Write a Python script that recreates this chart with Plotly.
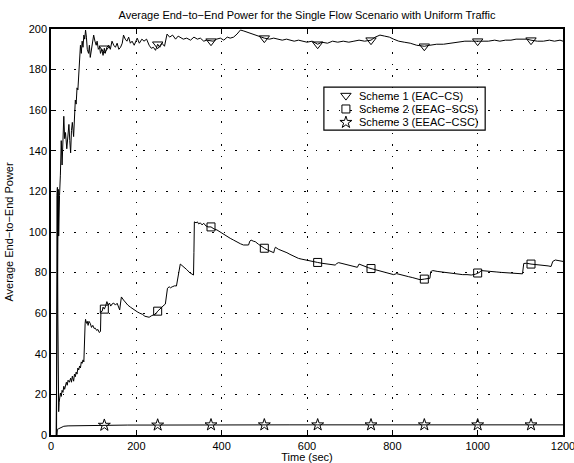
import plotly.graph_objects as go

# ---- Scheme 1 (EAC-CS): time (s) and average end-to-end power ----
s1_t = [12, 14, 15, 16, 17, 18, 19, 20, 22, 24,
        26, 28, 30, 32, 34, 37, 40, 42, 44, 46,
        48, 50, 53, 55, 57, 59, 61, 63, 65, 67,
        69, 71, 73, 75, 77, 79, 81, 83, 85, 88,
        90, 92, 95, 98, 100, 103, 106, 108, 111, 114,
        116, 119, 122, 125, 127, 131, 135, 139, 143, 147,
        151, 155, 159, 163, 167, 170, 174, 178, 182, 186,
        190, 195, 202, 207, 213, 218, 224, 230, 235, 240,
        245, 250, 255, 260, 266, 272, 278, 285, 292, 298,
        303, 310, 318, 327, 335, 343, 350, 358, 365, 375,
        380, 388, 397, 405, 413, 420, 428, 436, 444, 452,
        459, 467, 475, 483, 492, 500, 512, 522, 532, 542,
        552, 561, 570, 580, 590, 600, 612, 625, 635, 648,
        660, 672, 685, 698, 710, 722, 735, 750, 760, 771,
        782, 793, 803, 815, 828, 842, 857, 875, 888, 904,
        920, 935, 948, 959, 970, 985, 1000, 1012, 1025, 1040,
        1052, 1065, 1078, 1090, 1103, 1115, 1125, 1140, 1154, 1168,
        1180, 1193, 1200]
s1_v = [0, 55, 92, 106, 121, 98, 112, 118, 128, 145,
        133, 150, 157, 146, 149, 141, 151, 153, 145, 139,
        150, 154, 147, 158, 165, 163, 171, 170, 179, 183,
        192, 188, 194, 191, 197, 195, 199.5, 196, 190, 188,
        192, 186, 191, 196, 197, 194, 192, 194, 190, 191,
        188, 190, 187, 190.5, 188, 191, 192, 190, 194, 192,
        191, 193, 190, 191, 193, 197, 195, 194, 196, 193,
        194, 192, 195.5, 193, 195, 194, 195, 192, 190.5, 191,
        189.5, 192.5, 191, 193, 191.5, 197.5, 196, 197, 195, 196.5,
        196, 195, 195.5, 194.5, 196, 195, 195.5, 194, 194.5, 194,
        194, 195, 195.5, 194.5, 196, 195.5, 196, 197.5, 199.5, 199,
        198.5, 198, 197.5, 197, 196, 195.5, 195, 195.5, 195, 194.5,
        195, 194.5, 194, 194.5, 194, 193.5, 194, 192.5, 193.5, 193,
        194, 193.5, 194, 193.5, 194, 194.5, 194, 194.5, 196, 197,
        196.5, 196, 195, 194, 193.5, 193, 192, 191.5, 192, 192.5,
        192.5, 193, 193.5, 193.5, 194, 194, 194, 194, 194, 194.5,
        194, 194.5, 194.5, 195, 195, 195, 194.5, 194, 194, 194.5,
        194, 194.5, 194]

# ---- Scheme 2 (EEAC-SCS) ----
s2_t = [12, 13, 14, 15, 16, 17, 18, 19, 20, 22,
        24, 26, 28, 30, 32, 34, 36, 38, 40, 43,
        46, 48, 50, 53, 55, 57, 59, 61, 63, 65,
        67, 69, 71, 73, 75, 77, 78, 79, 80, 81,
        83, 85, 87, 89, 92, 95, 98, 101, 104, 107,
        110, 113, 116, 117, 120, 122, 125, 128, 131, 134,
        137, 140, 143, 147, 151, 155, 158, 161, 163, 165,
        170, 175, 180, 186, 192, 197, 202, 208, 214, 220,
        225, 230, 236, 241, 245, 250, 255, 260, 265, 268,
        270, 273, 277, 280, 284, 290, 294, 296, 298, 300,
        303, 307, 311, 318, 325, 330, 334, 335, 336, 340,
        343, 346, 350, 354, 358, 363, 368, 375, 382, 389,
        396, 404, 412, 420, 428, 436, 444, 451, 457, 463,
        466, 469, 474, 479, 486, 492, 500, 507, 515, 522,
        524, 526, 533, 540, 547, 553, 560, 567, 574, 580,
        588, 594, 600, 608, 615, 625, 635, 645, 655, 666,
        670, 674, 682, 690, 700, 710, 718, 722, 728, 736,
        744, 750, 758, 768, 778, 788, 797, 803, 810, 818,
        828, 838, 848, 856, 865, 875, 882, 888, 890, 895,
        905, 915, 925, 935, 945, 955, 965, 975, 985, 995,
        1000, 1005, 1008, 1015, 1025, 1035, 1045, 1055, 1065, 1075,
        1085, 1095, 1105, 1108, 1115, 1125, 1135, 1145, 1155, 1165,
        1172, 1176, 1182, 1190, 1200]
s2_v = [0, 0, 118, 122, 60, 14, 11.5, 16, 18, 20.7,
        19, 22, 21, 24, 22.5, 24, 26, 24.5, 27, 26,
        28, 26, 29, 26.5, 30, 28.7, 31, 30, 33, 32,
        34, 33, 36, 35.3, 37, 36, 48, 52, 55, 57,
        55, 56, 54, 56, 55, 53, 54, 52.5, 52.6, 51.5,
        52, 50.5, 51, 60.7, 61, 63, 62, 63.5, 65.7, 64,
        65, 63.5, 64.5, 65, 64, 64.9, 63, 61.6, 65, 68,
        66.5, 65, 64, 63, 62, 61.5, 60.7, 60, 59.5, 58.5,
        58.3, 58, 58.8, 59.1, 59.5, 61, 62, 63.5, 64, 64.5,
        68, 72.3, 73, 72.5, 73, 73.5, 73.4, 76, 80, 82,
        84.2, 83.5, 82.9, 81.5, 80, 79.5, 78.8, 90, 105, 104.5,
        105, 104, 104.5, 103.5, 104.3, 103, 102.5, 102.5, 101.5, 101,
        100, 99, 98, 96.9, 96, 95, 94.2, 93.6, 93.5, 93.6,
        95.5, 96, 95.5, 95.2, 94, 93, 92, 91.2, 90.3, 89.8,
        91.5, 92.5, 91.5, 91, 90.5, 89.8, 89, 88.2, 87.6, 87,
        86.6, 86.4, 86.2, 85.8, 85.6, 85, 84.6, 84.2, 83.8, 83.7,
        84.5, 84.9, 84.5, 84, 83.5, 83, 82.6, 84.2, 83.6, 82.8,
        82.4, 82, 81.6, 81, 80.5, 80, 79.5, 79, 79.5, 79,
        78.5, 78, 77.5, 77, 76.5, 76.8, 77, 77.2, 80.5, 81,
        80.6, 80.3, 80, 79.8, 79.6, 79.3, 79, 79, 78.8, 79.2,
        79.8, 80.2, 81, 80.8, 80.6, 80.4, 80.3, 80.1, 80, 79.8,
        79.6, 79.5, 79.4, 84.5, 84.6, 84.2, 84, 84, 83.7, 83.3,
        83, 85.5, 86.2, 85.8, 85.5]

# ---- Scheme 3 (EEAC-CSC) ----
s3_t = [14, 15, 18, 22, 26, 30, 40, 60, 90, 125,
        180, 250, 320, 375, 450, 500, 560, 625, 690, 750,
        810, 875, 940, 1000, 1060, 1125, 1180, 1200]
s3_v = [0, 2.8, 3.1, 3.4, 3.9, 4.3, 4.5, 4.6, 4.7, 4.8,
        4.9, 4.9, 5.0, 5.0, 5.0, 5.0, 5.0, 5.0, 5.0, 5.0,
        4.9, 5.0, 5.0, 5.0, 5.0, 5.0, 5.0, 5.0]

# times at which each curve carries a marker
mark_t = [125, 250, 375, 500, 625, 750, 875, 1000, 1125]

x_ticks = [0, 200, 400, 600, 800, 1000, 1200]
y_ticks = [0, 20, 40, 60, 80, 100, 120, 140, 160, 180, 200]

names = ["Scheme 1 (EAC\u2212CS)", "Scheme 2 (EEAC\u2212SCS)", "Scheme 3 (EEAC\u2212CSC)"]
symbols = ["triangle-down-open", "square-open", "star-open"]
sizes = [9, 8, 9]

FONT = "Liberation Sans, Arial, Helvetica, sans-serif"


def marked(t, v):
    idx = [t.index(m) for m in mark_t]
    return [t[i] for i in idx], [v[i] for i in idx]


fig = go.Figure()
series = [(s1_t, s1_v), (s2_t, s2_v), (s3_t, s3_v)]
for (t, v), sym, sz in zip(series, symbols, sizes):
    fig.add_trace(go.Scatter(x=t, y=v, mode="lines",
                             line=dict(color="black", width=1),
                             showlegend=False, hoverinfo="skip"))
    mt, mv = marked(t, v)
    fig.add_trace(go.Scatter(x=mt, y=mv, mode="markers",
                             marker=dict(symbol=sym, size=sz, color="black",
                                         line=dict(color="black", width=1)),
                             showlegend=False))

# legend box drawn inside the axes
leg_x0, leg_x1, leg_y0, leg_y1 = 0.533, 0.848, 0.751, 0.857
leg_rows = [0.836, 0.803, 0.770]
leg_mark_x = 0.576
leg_text_x = 0.598
for sym, sz, row in zip(symbols, sizes, leg_rows):
    fig.add_trace(go.Scatter(x=[leg_mark_x], y=[row], mode="markers",
                             xaxis="x2", yaxis="y2",
                             marker=dict(symbol=sym, size=sz, color="black",
                                         line=dict(color="black", width=1)),
                             showlegend=False, hoverinfo="skip"))
fig.add_shape(type="rect", xref="paper", yref="paper",
              x0=leg_x0, x1=leg_x1, y0=leg_y0, y1=leg_y1,
              line=dict(color="black", width=1.2), fillcolor="white", layer="below")
for name, row in zip(names, leg_rows):
    fig.add_annotation(x=leg_text_x, y=row, xref="paper", yref="paper",
                       text=name, showarrow=False, xanchor="left", yanchor="middle",
                       font=dict(family=FONT, size=11, color="black"))

axis_common = dict(showline=True, linecolor="black", linewidth=1.5, mirror="ticks",
                   ticks="inside", ticklen=5, tickwidth=1, tickcolor="black",
                   showgrid=True, gridcolor="black", gridwidth=1, griddash="1.5px,10px",
                   zeroline=False, automargin=False, ticklabeloverflow="allow",
                   tickfont=dict(family=FONT, size=11, color="black"))

fig.update_layout(
    width=574, height=463,
    margin=dict(l=51, r=11, t=29, b=28, autoexpand=False),
    paper_bgcolor="white", plot_bgcolor="white",
    font=dict(family=FONT, size=11, color="black"),
    title=dict(text="Average End\u2212to\u2212End Power for the Single Flow Scenario with Uniform Traffic",
               x=0.5, xref="paper", xanchor="center",
               y=1 - 15 / 463, yref="container", yanchor="middle",
               font=dict(family=FONT, size=11, color="black")),
    xaxis=dict(range=[0, 1200], tickvals=x_ticks,
               title=dict(text="Time (sec)", standoff=0,
                          font=dict(family=FONT, size=11, color="black")),
               **axis_common),
    yaxis=dict(range=[0, 200], tickvals=y_ticks,
               title=dict(text="Average End\u2212to\u2212End Power", standoff=13,
                          font=dict(family=FONT, size=11, color="black")),
               **axis_common),
    xaxis2=dict(overlaying="x", range=[0, 1], visible=False),
    yaxis2=dict(overlaying="y", range=[0, 1], visible=False),
    showlegend=False,
)

fig.write_html("out.html")
